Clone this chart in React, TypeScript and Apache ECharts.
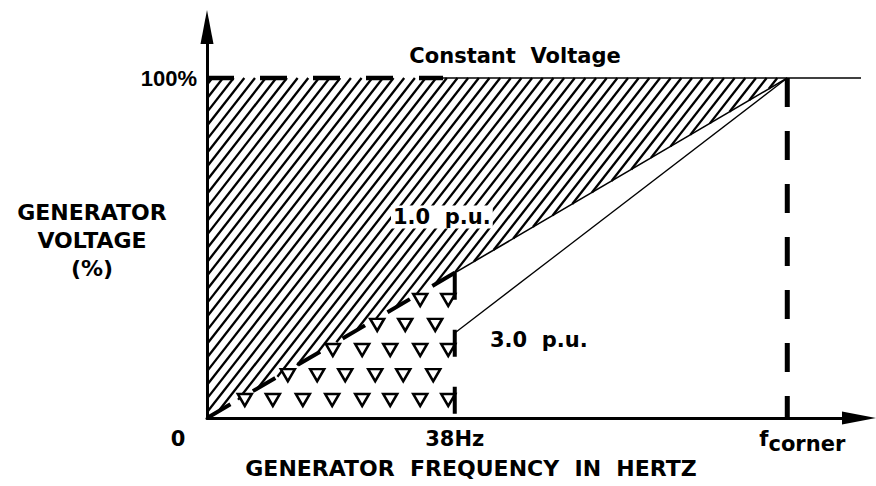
import React, { useEffect, useRef } from 'react';
import * as echarts from 'echarts';

// ---- data (frequency in arbitrary axis units, voltage in %) ----
const xTickValues = [0, 38, 89];
const xTickLabels = ['{zero|0}', '38Hz', '{f|f}{sub|corner}'];
const yTickValues = [100];
const yTickLabels = ['100%'];

const constantVoltageDashed = [[0, 100], [36.2, 100]];
const constantVoltageSolid = [[36.2, 100], [102.6, 100]];
const pu1Dashed = [[38, 42.7], [0, 0]];
const pu1Solid = [[38, 42.7], [89, 100]];
const pu3Solid = [[38, 25], [89, 100]];
const hz38Line = [[38, 42.7], [38, 0]];
const cornerLine = [[89, 100], [89, 0]];
const hatchPolygon = [[0, 0], [0, 100], [89, 100]];

const triRowA = [[5.8, 5.3], [10.1, 5.3], [14.7, 5.3], [19.2, 5.3], [23.8, 5.3], [28.1, 5.3], [32.7, 5.3], [37.0, 5.3]];
const triRowB = [[12.4, 12.6], [16.9, 12.6], [21.2, 12.6], [25.8, 12.6], [30.1, 12.6], [34.7, 12.6]];
const triRowC = [[19.3, 20], [23.8, 20], [28.1, 20], [32.7, 20], [37.0, 20]];
const triRowD = [[26.1, 27.4], [30.4, 27.4], [35.0, 27.4]];
const triRowE = [[32.7, 34.7], [37.0, 34.7]];

const FONT = 'DejaVu Sans';
const FONT2 = 'Liberation Sans';

function lineSeries(data: number[][], width: number, type: any, z = 5) {
  return {
    type: 'line',
    data,
    symbol: 'none',
    silent: true,
    clip: false,
    z,
    lineStyle: { color: '#000', width, type, cap: 'butt' },
  };
}

export default function App() {
  const ref = useRef<HTMLDivElement>(null);
  useEffect(() => {
    document.body.style.margin = '0';
    const chart = echarts.init(ref.current!, null, { renderer: 'svg' });
    const angle = (52 * Math.PI) / 180;
    const gap = 8.4;
    const option: any = {
      animation: false,
      backgroundColor: '#fff',
      grid: { left: 207, right: 17, top: 27, bottom: 68 },
      xAxis: {
        type: 'value',
        min: 0,
        max: 100,
        splitLine: { show: false },
        axisTick: { show: false },
        axisLine: {
          show: true,
          lineStyle: { color: '#000', width: 3 },
          symbol: ['none', 'triangle'],
          symbolSize: [13, 34],
        },
        axisLabel: {
          customValues: xTickValues,
          formatter: (v: number) => xTickLabels[xTickValues.indexOf(v)] ?? '',
          color: '#000',
          fontFamily: FONT,
          fontWeight: 'bold',
          fontSize: 21,
          margin: 10,
          rich: {
            zero: { fontFamily: FONT, fontWeight: 'bold', fontSize: 21, color: '#000', padding: [0, 58, 0, 0] },
            f: { fontFamily: FONT, fontWeight: 'bold', fontSize: 21, color: '#000', verticalAlign: 'top', lineHeight: 22, padding: [0, 0, 0, 30] },
            sub: { fontFamily: FONT, fontWeight: 'bold', fontSize: 21, color: '#000', lineHeight: 22, padding: [10, 0, 0, 0] },
          },
        },
      },
      yAxis: {
        type: 'value',
        min: 0,
        max: 115,
        splitLine: { show: false },
        axisTick: { show: false },
        axisLine: {
          show: true,
          lineStyle: { color: '#000', width: 3 },
          symbol: ['none', 'triangle'],
          symbolSize: [13, 34],
        },
        axisLabel: {
          customValues: yTickValues,
          formatter: (v: number) => yTickLabels[yTickValues.indexOf(v)] ?? '',
          color: '#000',
          fontFamily: FONT2,
          fontWeight: 'bold',
          fontSize: 22,
          margin: 10,
        },
      },
      series: [
        {
          type: 'custom',
          coordinateSystem: 'cartesian2d',
          silent: true,
          clip: false,
          z: 1,
          data: [[0, 0]],
          renderItem: (_params: any, api: any) => {
            const pts = hatchPolygon.map((p) => api.coord(p));
            const d = [Math.cos(angle), -Math.sin(angle)];
            const n = [Math.sin(angle), Math.cos(angle)];
            const proj = pts.map((p: number[]) => p[0] * n[0] + p[1] * n[1]);
            const cmin = Math.min(...proj);
            const cmax = Math.max(...proj);
            const children: any[] = [];
            for (let c = cmin + gap / 2; c < cmax; c += gap) {
              const hits: number[][] = [];
              for (let i = 0; i < pts.length; i++) {
                const j = (i + 1) % pts.length;
                const fa = proj[i] - c;
                const fb = proj[j] - c;
                if ((fa <= 0 && fb >= 0) || (fa >= 0 && fb <= 0)) {
                  if (fa === fb) continue;
                  const t = fa / (fa - fb);
                  hits.push([pts[i][0] + t * (pts[j][0] - pts[i][0]), pts[i][1] + t * (pts[j][1] - pts[i][1])]);
                }
              }
              if (hits.length < 2) continue;
              hits.sort((p, q) => p[0] * d[0] + p[1] * d[1] - (q[0] * d[0] + q[1] * d[1]));
              const p1 = hits[0];
              const p2 = hits[hits.length - 1];
              children.push({
                type: 'line',
                shape: { x1: p1[0], y1: p1[1], x2: p2[0], y2: p2[1] },
                style: { stroke: '#000', lineWidth: 2.3 },
              });
            }
            return { type: 'group', children };
          },
        },
        lineSeries(constantVoltageDashed, 4.5, [27, 26], 6),
        lineSeries(constantVoltageSolid, 1.6, 'solid'),
        lineSeries(pu1Dashed, 4, [26, 26], 6),
        lineSeries(pu1Solid, 1.6, 'solid'),
        lineSeries(pu3Solid, 1.3, 'solid'),
        lineSeries(hz38Line, 4, [27, 30], 6),
        lineSeries(cornerLine, 5, [29, 24], 6),
        {
          type: 'scatter',
          silent: true,
          z: 4,
          symbol: 'triangle',
          symbolRotate: 180,
          symbolSize: [14, 12],
          itemStyle: { color: '#fff', borderColor: '#000', borderWidth: 2.5, opacity: 1 },
          data: [...triRowA, ...triRowB, ...triRowC, ...triRowD, ...triRowE],
        },
      ],
      graphic: [
        {
          type: 'text',
          x: 515,
          y: 56,
          style: { text: 'Constant  Voltage', font: `bold 21px "${FONT}"`, fill: '#000', align: 'center', verticalAlign: 'middle' },
        },
        {
          type: 'text',
          x: 92,
          y: 240,
          style: {
            text: 'GENERATOR\nVOLTAGE\n(%)',
            font: `bold 22px "${FONT}"`,
            fill: '#000',
            align: 'center',
            verticalAlign: 'middle',
            lineHeight: 28,
          },
        },
        {
          type: 'text',
          x: 391,
          y: 217,
          z: 10,
          style: { text: '1.0  p.u.', font: `bold 21px "${FONT}"`, fill: '#000', align: 'left', verticalAlign: 'middle', backgroundColor: '#fff', padding: [1, 2] },
        },
        {
          type: 'text',
          x: 490,
          y: 340,
          style: { text: '3.0  p.u.', font: `bold 21px "${FONT}"`, fill: '#000', align: 'left', verticalAlign: 'middle' },
        },
        {
          type: 'text',
          x: 471,
          y: 468,
          style: { text: 'GENERATOR  FREQUENCY  IN  HERTZ', font: `bold 22px "${FONT}"`, fill: '#000', align: 'center', verticalAlign: 'middle' },
        },
      ],
    };
    chart.setOption(option);
    return () => chart.dispose();
  }, []);
  return <div ref={ref} style={{ width: 876, height: 486 }} />;
}
